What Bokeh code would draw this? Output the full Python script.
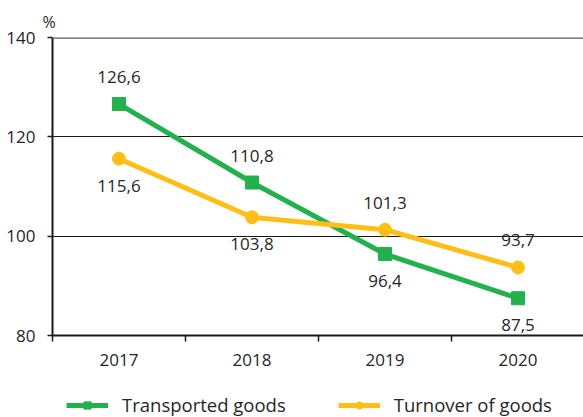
from bokeh.plotting import figure
from bokeh.models import (Range1d, FixedTicker, Legend, LegendItem, Span,
                          ColumnDataSource)
from bokeh.layouts import column
from bokeh.embed import file_html
from bokeh.resources import INLINE
from bokeh.core.properties import value
import numpy as np

years = ["2017", "2018", "2019", "2020"]
transported = [126.6, 110.8, 96.4, 87.5]
turnover = [115.6, 103.8, 101.3, 93.7]
transported_labels = ["126,6", "110,8", "96,4", "87,5"]
turnover_labels = ["115,6", "103,8", "101,3", "93,7"]
y_ticks = [80, 100, 120, 140]
series_names = ["Transported goods", "Turnover of goods"]

# label placement (+1 above, -1 below)
transported_side = [1, 1, -1, -1]
turnover_side = [-1, -1, 1, 1]

GREEN = "#23B14D"
YELLOW = "#FDBF17"
TXT = "#262626"
AX = "#1a1a1a"
FONT = "Open Sans"

xs = np.arange(len(years)) + 0.5

W, H = 583, 390
p = figure(width=W, height=H, output_backend="svg", toolbar_location=None,
           x_range=Range1d(0, 4 * 531 / 532), y_range=Range1d(80, 140),
           min_border_left=52, min_border_right=0, min_border_top=37,
           min_border_bottom=55)
p.outline_line_color = None
p.background_fill_color = "white"

p.title.text = "%"
p.title.align = "left"
p.title.offset = -10
p.title.standoff = 10
p.title.text_font = FONT
p.title.text_font_style = "normal"
p.title.text_font_size = "16px"
p.title.text_color = TXT

# axes
p.yaxis.ticker = FixedTicker(ticks=y_ticks)
p.yaxis.major_tick_out = 5
p.yaxis.major_tick_in = 0
p.yaxis.minor_tick_out = 0
p.yaxis.axis_line_color = AX
p.yaxis.axis_line_width = 2
p.yaxis.major_tick_line_color = AX
p.yaxis.major_tick_line_width = 1.5
p.yaxis.major_label_text_font = FONT
p.yaxis.major_label_text_font_size = "17px"
p.yaxis.major_label_text_color = TXT
p.yaxis.major_label_standoff = 12

p.xaxis.ticker = FixedTicker(ticks=list(xs), minor_ticks=[0, 1, 2, 3, 4])
p.xaxis.major_label_overrides = {float(x): y for x, y in zip(xs, years)}
p.xaxis.major_tick_out = 0
p.xaxis.major_tick_in = 0
p.xaxis.minor_tick_out = 6
p.xaxis.minor_tick_in = 0
p.xaxis.minor_tick_line_color = AX
p.xaxis.minor_tick_line_width = 1.5
p.xaxis.axis_line_color = AX
p.xaxis.axis_line_width = 2
p.xaxis.major_label_text_font = FONT
p.xaxis.major_label_text_font_size = "17px"
p.xaxis.major_label_text_color = TXT
p.xaxis.major_label_standoff = 12

p.xgrid.visible = False
p.ygrid.ticker = FixedTicker(ticks=y_ticks[1:3])
p.ygrid.grid_line_color = AX
p.ygrid.grid_line_width = 1

p.add_layout(Span(location=y_ticks[-1], dimension="width", line_color="#595959",
                  line_width=2.5))

src_g = ColumnDataSource(dict(x=xs, y=transported, lab=transported_labels,
                              off=[-27 * s for s in transported_side]))
src_y = ColumnDataSource(dict(x=xs, y=turnover, lab=turnover_labels,
                              off=[-27 * s for s in turnover_side]))

line_kw = dict(line_width=5)
p.line("x", "y", source=src_g, line_color=GREEN, **line_kw)
p.scatter("x", "y", source=src_g, marker="square", size=13,
          fill_color=GREEN, line_color=GREEN)
p.line("x", "y", source=src_y, line_color=YELLOW, **line_kw)
p.scatter("x", "y", source=src_y, marker="circle", size=13,
          fill_color=YELLOW, line_color=YELLOW)

for src in (src_g, src_y):
    p.text("x", "y", text="lab", source=src, y_offset="off",
           text_align="center", text_baseline="middle",
           text_font=value(FONT), text_font_size="17px", text_color=TXT)

# legend strip below the chart (its frame is aligned with the chart's frame;
# the series themselves fall outside this strip's ranges, only the legend shows)
lf = figure(width=W, height=417 - H, output_backend="svg", toolbar_location=None,
            x_range=Range1d(0, 1), y_range=Range1d(0, 1),
            min_border=0, x_axis_type=None, y_axis_type=None)
lf.outline_line_color = None
lf.xgrid.visible = False
lf.ygrid.visible = False
lg = lf.line("x", "y", source=src_g, line_color=GREEN, **line_kw)
sg = lf.scatter("x", "y", source=src_g, marker="square", size=12,
                fill_color=GREEN, line_color=GREEN)
ly = lf.line("x", "y", source=src_y, line_color=YELLOW, **line_kw)
sy = lf.scatter("x", "y", source=src_y, marker="circle", size=12,
                fill_color=YELLOW, line_color=YELLOW)

legend = Legend(items=[LegendItem(label=series_names[0], renderers=[lg, sg]),
                       LegendItem(label=series_names[1], renderers=[ly, sy])],
                orientation="horizontal", location=(14, 0),
                glyph_width=42, glyph_height=18, label_height=18,
                label_standoff=14, spacing=52,
                padding=0, margin=0, border_line_alpha=0,
                background_fill_alpha=0,
                label_text_font=FONT, label_text_font_size="18.5px",
                label_text_color=TXT)
lf.add_layout(legend, "center")

open("out.html", "w").write(file_html(column(p, lf, spacing=0), INLINE))
